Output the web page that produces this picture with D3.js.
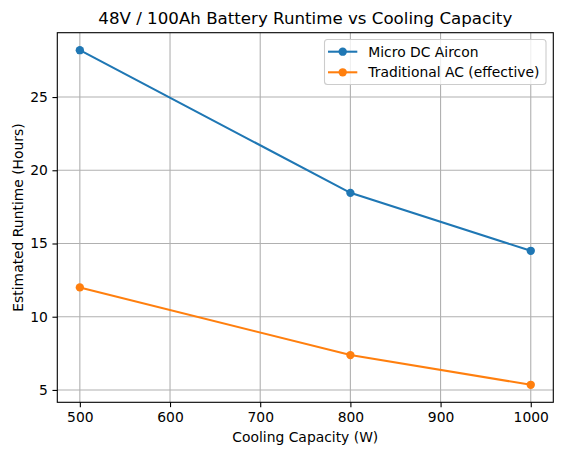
<!DOCTYPE html>
<html>
<head>
<meta charset="utf-8">
<script src="https://cdn.jsdelivr.net/npm/d3@7"></script>
<style>
  body { margin: 0; background: #fff; }
  text { font-family: "DejaVu Sans", sans-serif; fill: #000; }
</style>
</head>
<body>
<div id="chart"></div>
<script>
// chart data
const capacities = [500, 800, 1000];
const microDC = [28.2, 18.46, 14.5];
const traditionalAC = [12.0, 7.38, 5.35];
const seriesNames = ["Micro DC Aircon", "Traditional AC (effective)"];
const seriesColors = ["#1f77b4", "#ff7f0e"];
const xTicks = [500, 600, 700, 800, 900, 1000];
const yTicks = [5, 10, 15, 20, 25];

const width = 562;
const height = 455;
const margin = { top: 32.7, right: 8.7, bottom: 52.7, left: 57.3 };
const fontSize = "13.89px";

const svg = d3.select("#chart")
    .append("svg")
    .attr("width", width)
    .attr("height", height);

const x = d3.scaleLinear()
    .domain([475, 1025])
    .range([margin.left, width - margin.right]);

const y = d3.scaleLinear()
    .domain([4.155, 29.395])
    .range([height - margin.bottom, margin.top]);

// grid
const grid = svg.append("g");
grid.selectAll(".gx")
    .data(xTicks)
    .join("line")
    .attr("class", "gx")
    .attr("x1", d => x(d)).attr("x2", d => x(d))
    .attr("y1", margin.top).attr("y2", height - margin.bottom)
    .attr("stroke", "#b0b0b0").attr("stroke-width", 1.1);
grid.selectAll(".gy")
    .data(yTicks)
    .join("line")
    .attr("class", "gy")
    .attr("x1", margin.left).attr("x2", width - margin.right)
    .attr("y1", d => y(d)).attr("y2", d => y(d))
    .attr("stroke", "#b0b0b0").attr("stroke-width", 1.1);

// axes
const xAxis = d3.axisBottom(x).tickValues(xTicks).tickFormat(d3.format("d"))
    .tickSizeOuter(0).tickSize(4.86).tickPadding(4.6);
const yAxis = d3.axisLeft(y).tickValues(yTicks).tickFormat(d3.format("d"))
    .tickSizeOuter(0).tickSize(4.86).tickPadding(4.6);

const gx = svg.append("g")
    .attr("transform", `translate(0, ${height - margin.bottom})`)
    .call(xAxis);
const gy = svg.append("g")
    .attr("transform", `translate(${margin.left}, 0)`)
    .call(yAxis);

[gx, gy].forEach(g => {
    g.select(".domain").remove();
    g.selectAll("line").attr("stroke", "#000").attr("stroke-width", 1.1);
    g.selectAll("text")
        .style("font-family", "DejaVu Sans")
        .style("font-size", fontSize)
        .attr("fill", "#000");
});

// series lines and markers
const series = [microDC, traditionalAC];
const line = d3.line()
    .x((d, i) => x(capacities[i]))
    .y(d => y(d));

series.forEach((vals, s) => {
    svg.append("path")
        .datum(vals)
        .attr("d", line)
        .attr("fill", "none")
        .attr("stroke", seriesColors[s])
        .attr("stroke-width", 2.08);
    svg.append("g")
        .selectAll("circle")
        .data(vals)
        .join("circle")
        .attr("cx", (d, i) => x(capacities[i]))
        .attr("cy", d => y(d))
        .attr("r", 4.17)
        .attr("fill", seriesColors[s]);
});

// frame
svg.append("rect")
    .attr("x", margin.left)
    .attr("y", margin.top)
    .attr("width", width - margin.left - margin.right)
    .attr("height", height - margin.top - margin.bottom)
    .attr("fill", "none")
    .attr("stroke", "#000")
    .attr("stroke-width", 1.1);

// title and axis labels
svg.append("text")
    .attr("x", (margin.left + width - margin.right) / 2)
    .attr("y", 24.3)
    .attr("text-anchor", "middle")
    .style("font-size", "16.67px")
    .text("48V / 100Ah Battery Runtime vs Cooling Capacity");

svg.append("text")
    .attr("x", (margin.left + width - margin.right) / 2)
    .attr("y", 442)
    .attr("text-anchor", "middle")
    .style("font-size", fontSize)
    .text("Cooling Capacity (W)");

svg.append("text")
    .attr("transform", `translate(22.5, ${(margin.top + height - margin.bottom) / 2}) rotate(-90)`)
    .attr("text-anchor", "middle")
    .style("font-size", fontSize)
    .text("Estimated Runtime (Hours)");

// legend
const legend = svg.append("g");
legend.append("rect")
    .attr("x", 324.5)
    .attr("y", 39.5)
    .attr("width", 221.5)
    .attr("height", 45)
    .attr("rx", 3)
    .attr("fill", "#fff")
    .attr("fill-opacity", 0.8)
    .attr("stroke", "#cccccc")
    .attr("stroke-width", 1.1);

seriesNames.forEach((name, i) => {
    const ly = 51.7 + i * 20.6;
    legend.append("line")
        .attr("x1", 328).attr("x2", 357.3)
        .attr("y1", ly).attr("y2", ly)
        .attr("stroke", seriesColors[i])
        .attr("stroke-width", 2.08);
    legend.append("circle")
        .attr("cx", 342.7).attr("cy", ly).attr("r", 4.17)
        .attr("fill", seriesColors[i]);
    legend.append("text")
        .attr("x", 368.3)
        .attr("y", ly + 5)
        .style("font-size", fontSize)
        .text(name);
});
</script>
</body>
</html>
